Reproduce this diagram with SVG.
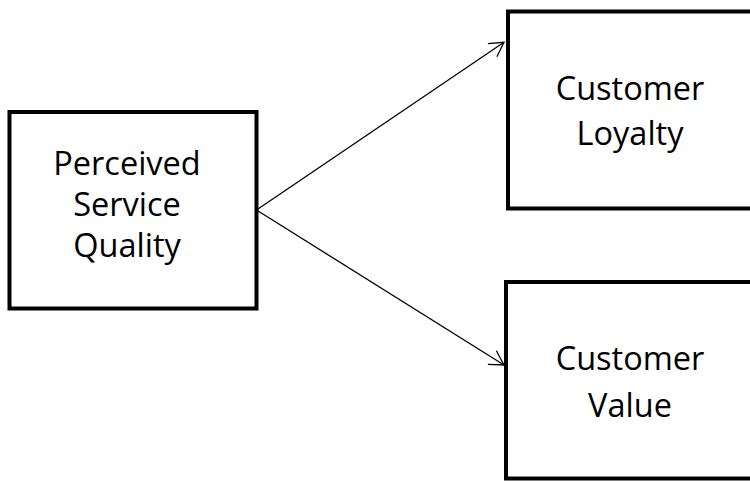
<svg xmlns="http://www.w3.org/2000/svg" width="750" height="481" viewBox="0 0 750 481">
<style>
.box{fill:#fff;stroke:#000;stroke-width:4}
.lbl{font-family:"Open Sans","Liberation Sans",Arial,sans-serif;font-size:32.5px;fill:#000;text-anchor:middle}
.conn{stroke:#000;stroke-width:1.3;fill:none;marker-end:url(#arr)}
</style>
<defs>
<marker id="arr" markerUnits="userSpaceOnUse" viewBox="-16 -10 18 20" refX="0" refY="0" markerWidth="18" markerHeight="20" orient="auto">
<path d="M-14,-8 L0,0 L-14,8" fill="none" stroke="#000" stroke-width="1.3"/>
</marker>
</defs>
<rect width="750" height="481" fill="#fff"/>
<g id="connectors">
<line class="conn" x1="256.5" y1="210" x2="504" y2="42.3"/>
<line class="conn" x1="256.5" y1="210" x2="504" y2="365"/>
</g>
<g id="perceived-service-quality">
<rect class="box" x="9.5" y="112" width="247" height="196.5"/>
<text class="lbl" x="127" y="175">Perceived</text>
<text class="lbl" x="127" y="216">Service</text>
<text class="lbl" x="127" y="257">Quality</text>
</g>
<g id="customer-loyalty">
<rect class="box" x="508" y="11.5" width="250" height="197"/>
<text class="lbl" x="630" y="100">Customer</text>
<text class="lbl" x="630" y="145">Loyalty</text>
</g>
<g id="customer-value">
<rect class="box" x="506" y="282" width="252" height="196.5"/>
<text class="lbl" x="630" y="370">Customer</text>
<text class="lbl" x="630" y="417">Value</text>
</g>
</svg>
